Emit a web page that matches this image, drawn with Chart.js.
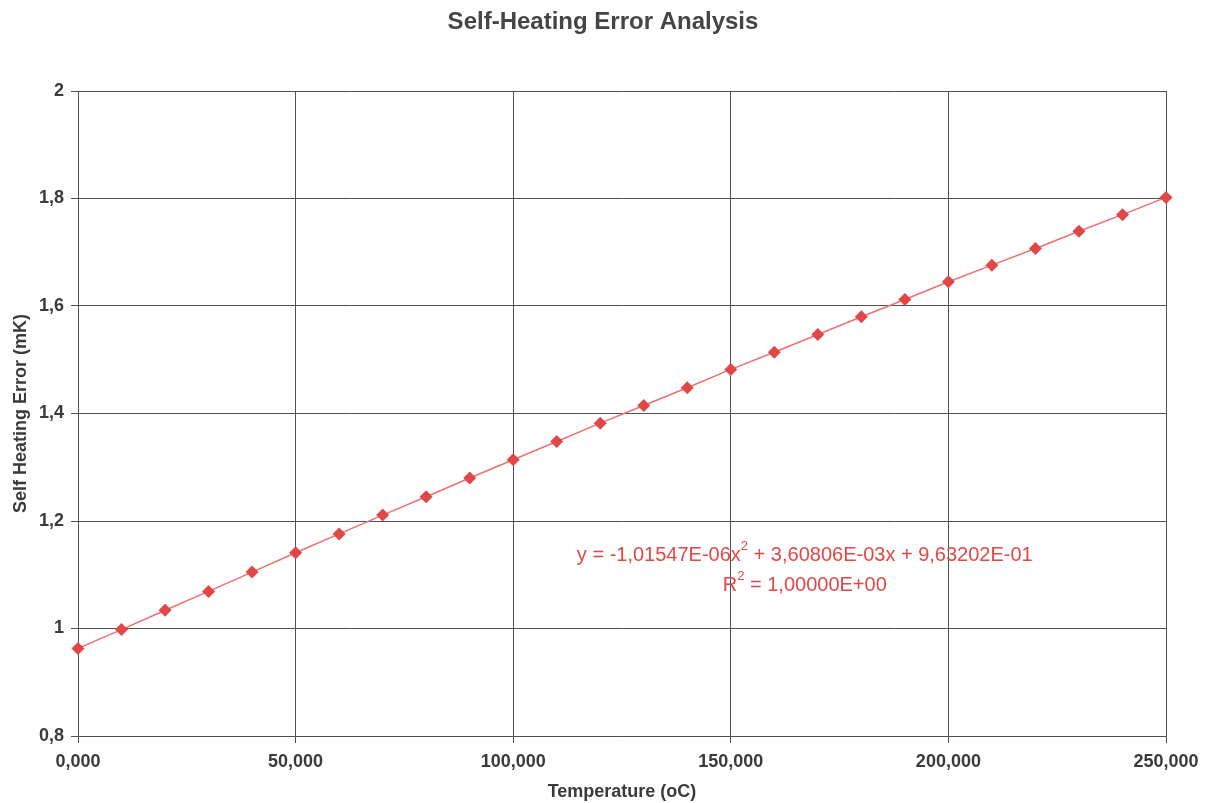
<!DOCTYPE html>
<html>
<head>
<meta charset="utf-8">
<title>Self-Heating Error Analysis</title>
<script src="https://cdn.jsdelivr.net/npm/chart.js@4.4.1/dist/chart.umd.min.js"></script>
<style>
  html, body { margin: 0; padding: 0; background: #fff; }
  #wrap { width: 1212px; height: 803px; }
</style>
</head>
<body>
<div id="wrap"><canvas id="heatChart" width="1212" height="803"></canvas></div>
<script>
// temperature (oC) and measured self heating error (mK)
var temps = [0, 10, 20, 30, 40, 50, 60, 70, 80, 90, 100, 110, 120, 130, 140, 150,
             160, 170, 180, 190, 200, 210, 220, 230, 240, 250];
var errors = [0.963, 0.998, 1.034, 1.069, 1.105, 1.141, 1.176, 1.211, 1.245, 1.280,
              1.314, 1.348, 1.382, 1.415, 1.448, 1.482, 1.514, 1.547, 1.580, 1.612,
              1.645, 1.676, 1.707, 1.739, 1.770, 1.802];

var chartTitle = 'Self-Heating Error Analysis';
var fitLine = 'y = -1,01547E-06x';
var fitRest = ' + 3,60806E-03x + 9,63202E-01';
var fitR2 = ['R', ' = 1,00000E+00'];

var fontFamily = 'Arial, "Liberation Sans", sans-serif';
var red = '#e04848';
var gridColor = '#505050';
var textColor = '#3a3a3a';

var points = temps.map(function (t, i) { return { x: t, y: errors[i] }; });

function comma(v, digits) {
    return v.toFixed(digits).replace('.', ',');
}

// page title, centred on the whole canvas rather than the plot
var titlePlugin = {
    id: 'pageTitle',
    afterDraw: function (chart) {
        var ctx = chart.ctx;
        ctx.save();
        ctx.font = 'bold 24px ' + fontFamily;
        ctx.fillStyle = '#454545';
        ctx.textAlign = 'center';
        ctx.textBaseline = 'middle';
        ctx.fillText(chartTitle, 603, 22);
        ctx.restore();
    }
};

// trend line equation, drawn with superscript 2
var equationPlugin = {
    id: 'equation',
    afterDraw: function (chart) {
        var ctx = chart.ctx;
        var cx = chart.scales.x.getPixelForValue(167);
        var cy = chart.scales.y.getPixelForValue(1.14) + 2;
        var big = '20px ' + fontFamily;
        var small = '13px ' + fontFamily;
        ctx.save();
        ctx.fillStyle = red;
        ctx.textBaseline = 'middle';
        ctx.textAlign = 'left';

        ctx.font = big;
        var w1 = ctx.measureText(fitLine).width;
        var w3 = ctx.measureText(fitRest).width;
        ctx.font = small;
        var w2 = ctx.measureText('2').width;
        var x = cx - (w1 + w2 + w3) / 2;
        ctx.font = big;
        ctx.fillText(fitLine, x, cy);
        ctx.font = small;
        ctx.fillText('2', x + w1, cy - 9);
        ctx.font = big;
        ctx.fillText(fitRest, x + w1 + w2, cy);

        var y2 = cy + 30;
        var r1 = ctx.measureText(fitR2[0]).width;
        var r3 = ctx.measureText(fitR2[1]).width;
        x = cx - (r1 + w2 + r3) / 2;
        ctx.fillText(fitR2[0], x, y2);
        ctx.font = small;
        ctx.fillText('2', x + r1, y2 - 9);
        ctx.font = big;
        ctx.fillText(fitR2[1], x + r1 + w2, y2);
        ctx.restore();
    }
};

var ctx = document.getElementById('heatChart').getContext('2d');
var heatChart = new Chart(ctx, {
    type: 'scatter',
    data: {
        datasets: [{
            data: points,
            showLine: true,
            clip: false,
            borderColor: '#ee7070',
            borderWidth: 1.5,
            pointStyle: 'rectRot',
            pointRadius: 6.5,
            pointBackgroundColor: red,
            pointBorderColor: red,
            pointBorderWidth: 0
        }]
    },
    options: {
        responsive: false,
        animation: false,
        layout: {
            padding: { top: 91, right: 46, left: 0, bottom: 0 }
        },
        plugins: {
            legend: { display: false },
            tooltip: { enabled: false },
            title: { display: false }
        },
        scales: {
            x: {
                type: 'linear',
                min: 0,
                max: 250,
                afterFit: function (scale) { scale.height = 67; },
                ticks: {
                    stepSize: 50,
                    color: textColor,
                    padding: 8,
                    font: { family: fontFamily, size: 18, weight: 'bold' },
                    callback: function (v) { return comma(v, 3); }
                },
                grid: { color: gridColor, tickLength: 7 },
                border: { color: gridColor },
                title: {
                    display: true,
                    text: 'Temperature (oC)',
                    color: textColor,
                    font: { family: fontFamily, size: 18, weight: 'bold' },
                    padding: { top: 0, bottom: 0 }
                }
            },
            y: {
                min: 0.8,
                max: 2,
                afterFit: function (scale) { scale.width = 78; },
                ticks: {
                    stepSize: 0.2,
                    color: textColor,
                    padding: 7,
                    font: { family: fontFamily, size: 18, weight: 'bold' },
                    callback: function (v) {
                        var r = Math.round(v * 10) / 10;
                        return String(r).replace('.', ',');
                    }
                },
                grid: { color: gridColor, tickLength: 7 },
                border: { color: gridColor },
                title: {
                    display: true,
                    text: 'Self Heating Error (mK)',
                    color: textColor,
                    font: { family: fontFamily, size: 18, weight: 'bold' },
                    padding: { top: 10, bottom: 4 }
                }
            }
        }
    },
    plugins: [titlePlugin, equationPlugin]
});
</script>
</body>
</html>
